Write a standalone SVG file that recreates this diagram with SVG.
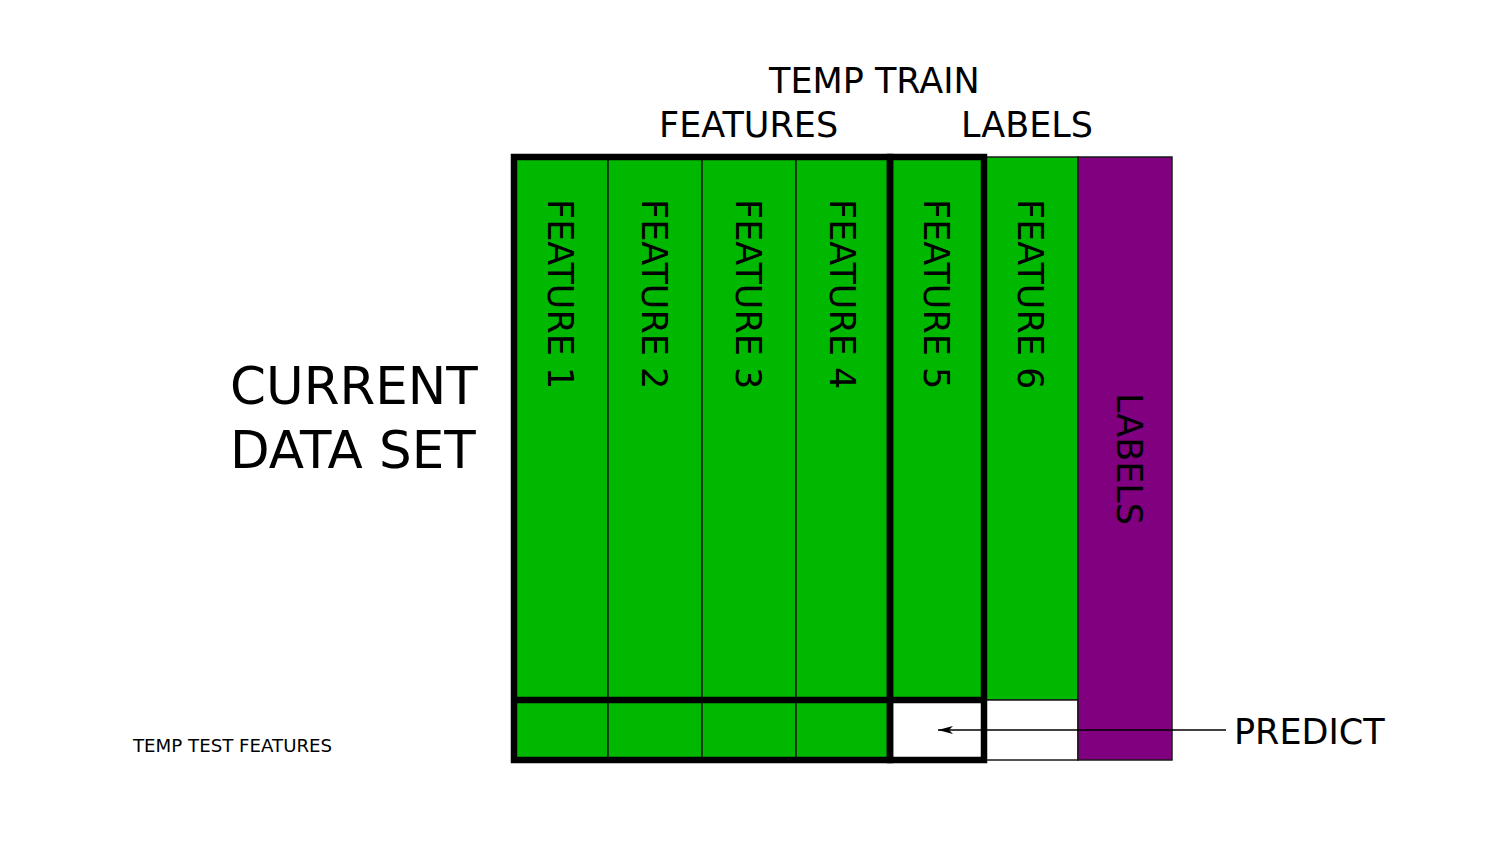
<svg xmlns="http://www.w3.org/2000/svg" width="1500" height="844" viewBox="0 0 1500 844">
<defs>
<style>
text{font-family:"DejaVu Sans","Liberation Sans",sans-serif;fill:#000}
.col{fill:#00b800;stroke:#1a1a1a;stroke-width:1.5}
.wh{fill:#fff;stroke:#1a1a1a;stroke-width:1.5}
.pur{fill:#800080;stroke:#1a1a1a;stroke-width:1.5}
.thick{fill:none;stroke:#000;stroke-width:6.5}
.t34{font-size:35px}
</style>
<marker id="ah" viewBox="0 0 15 10" refX="15" refY="5" markerWidth="15" markerHeight="10" markerUnits="userSpaceOnUse" orient="auto">
<path d="M15,5 L0,1 L4,5 L0,9 Z" fill="#000"/>
</marker>
</defs>
<rect width="1500" height="844" fill="#fff"/>
<g id="col1"><rect class="col" x="514" y="157" width="94" height="603"/><text class="t34" transform="translate(548,199) rotate(90)">FEATURE 1</text></g>
<g id="col2"><rect class="col" x="608" y="157" width="94" height="603"/><text class="t34" transform="translate(642,199) rotate(90)">FEATURE 2</text></g>
<g id="col3"><rect class="col" x="702" y="157" width="94" height="603"/><text class="t34" transform="translate(736,199) rotate(90)">FEATURE 3</text></g>
<g id="col4"><rect class="col" x="796" y="157" width="94" height="603"/><text class="t34" transform="translate(830,199) rotate(90)">FEATURE 4</text></g>
<g id="col5"><rect class="col" x="890" y="157" width="94" height="543"/><rect class="wh" x="890" y="700" width="94" height="60"/><text class="t34" transform="translate(924,199) rotate(90)">FEATURE 5</text></g>
<g id="col6"><rect class="col" x="984" y="157" width="94" height="543"/><rect class="wh" x="984" y="700" width="94" height="60"/><text class="t34" transform="translate(1018,199) rotate(90)">FEATURE 6</text></g>
<g id="labels"><rect class="pur" x="1078" y="157" width="94" height="603"/><text class="t34" transform="translate(1117,393) rotate(90)">LABELS</text></g>
<g id="frames">
<rect class="thick" x="514" y="157" width="376" height="603"/>
<rect class="thick" x="890" y="157" width="94" height="603"/>
<line class="thick" x1="514" y1="700" x2="984" y2="700"/>
</g>
<g id="connectors">
<line x1="1226" y1="730" x2="938" y2="730" stroke="#000" stroke-width="1.5" marker-end="url(#ah)"/>
</g>
<g id="titles">
<text class="t34" x="769" y="93">TEMP TRAIN</text>
<text class="t34" x="659" y="137">FEATURES</text>
<text class="t34" x="961" y="137">LABELS</text>
<text x="230" y="404" font-size="51.5">CURRENT</text>
<text x="230" y="468" font-size="51.5">DATA SET</text>
<text x="133" y="752" font-size="18.2">TEMP TEST FEATURES</text>
<text class="t34" x="1234" y="744">PREDICT</text>
</g>
</svg>
